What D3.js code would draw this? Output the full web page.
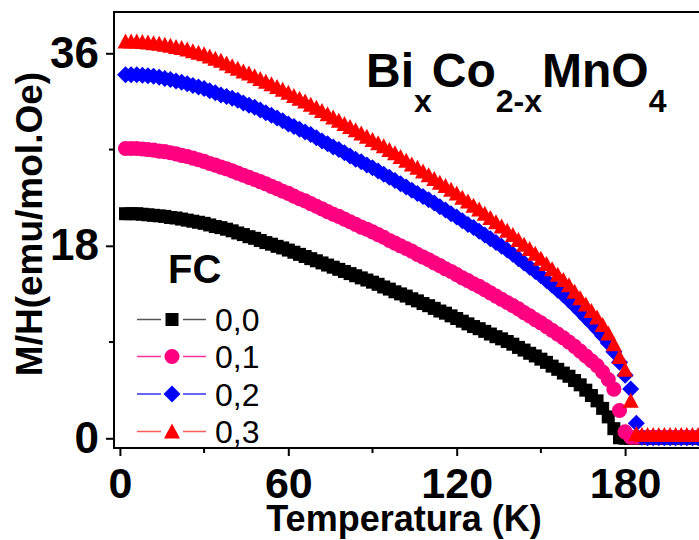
<!DOCTYPE html>
<html><head><meta charset="utf-8">
<script src="https://cdn.jsdelivr.net/npm/d3@7"></script>
<style>
body{margin:0;background:#fff;}
svg{display:block;font-family:"Liberation Sans",Arial,sans-serif;}
</style></head>
<body><svg id="c" width="699" height="540"></svg>
<script>
// ---- data ----
const temperatures = d3.range(2, 209, 2); // K, sampling of the measured points
const seriesNames = ["0,0", "0,1", "0,2", "0,3"];
const fc00 = [21.0,21.0,21.0,20.95,20.9,20.85,20.8,20.75,20.65,20.6,20.5,20.4,20.3,20.2,20.1,19.95,19.8,19.7,19.55,19.4,
 19.2,19.05,18.85,18.7,18.5,18.3,18.15,17.95,17.8,17.6,17.4,17.2,17.0,16.8,16.6,16.4,16.2,16.0,15.8,15.6,
 15.4,15.2,15.0,14.8,14.6,14.4,14.15,13.95,13.7,13.5,13.3,13.05,12.85,12.6,12.4,12.15,11.9,11.7,11.45,11.2,
 10.95,10.7,10.45,10.25,10.0,9.75,9.5,9.3,9.05,8.8,8.5,8.25,7.95,7.7,7.4,7.1,6.75,6.45,6.1,5.8,
 5.4,5.0,4.5,4.0,3.5,2.8,2.0,0.9,0.05,0,0,0,0,0,0,0,0,0,0,0,0,0,0,0];
const fc01 = [27.1,27.1,27.1,27.05,27.0,26.95,26.85,26.8,26.7,26.6,26.45,26.35,26.2,26.05,25.9,25.7,25.55,25.35,25.2,25.0,
 24.8,24.6,24.4,24.2,24.0,23.8,23.55,23.35,23.1,22.9,22.65,22.4,22.2,21.95,21.7,21.45,21.2,20.95,20.75,20.5,
 20.25,20.0,19.75,19.55,19.3,19.05,18.8,18.5,18.25,18.0,17.75,17.5,17.2,16.95,16.7,16.4,16.15,15.85,15.6,15.3,
 15.0,14.75,14.45,14.2,13.9,13.6,13.3,13.0,12.7,12.4,12.1,11.75,11.45,11.1,10.8,10.45,10.1,9.75,9.4,9.0,
 8.6,8.15,7.7,7.25,6.8,6.2,5.5,4.6,2.6,0.6,0.1,0.1,0.1,0.1,0.1,0.1,0.1,0.1,0.1,0.1,0.1,0.1,0.1,0.1];
const fc02 = [34.0,34.0,34.0,33.95,33.9,33.85,33.75,33.65,33.55,33.4,33.3,33.15,33.0,32.85,32.7,32.5,32.3,32.1,31.95,31.8,
 31.6,31.35,31.15,30.95,30.7,30.45,30.2,29.95,29.7,29.4,29.15,28.9,28.65,28.4,28.1,27.8,27.55,27.25,27.0,26.7,
 26.4,26.1,25.85,25.55,25.3,25.0,24.7,24.4,24.1,23.8,23.5,23.2,22.9,22.6,22.3,22.0,21.65,21.35,21.0,20.7,
 20.35,20.0,19.7,19.35,19.0,18.65,18.3,17.95,17.6,17.2,16.8,16.4,16.0,15.6,15.2,14.75,14.3,13.85,13.4,12.9,
 12.4,11.85,11.3,10.75,10.2,9.6,8.9,8.1,7.1,5.9,4.6,1.4,0.1,0.05,0.05,0.05,0.05,0.05,0.05,0.05,0.05,0.05,0.05,0.05];
const fc03 = [37.1,37.1,37.1,37.05,37.0,36.95,36.9,36.8,36.7,36.6,36.5,36.35,36.2,36.05,35.9,35.7,35.5,35.3,35.05,34.8,
 34.55,34.3,34.1,33.85,33.6,33.35,33.1,32.85,32.6,32.3,32.0,31.75,31.5,31.2,30.9,30.6,30.3,30.0,29.7,29.4,
 29.1,28.8,28.5,28.2,27.9,27.6,27.3,26.95,26.65,26.3,25.95,25.6,25.3,24.95,24.6,24.25,23.9,23.6,23.25,22.9,
 22.5,22.15,21.75,21.4,21.0,20.6,20.2,19.8,19.4,19.0,18.55,18.1,17.7,17.25,16.8,16.3,15.8,15.3,14.8,14.3,
 13.7,13.1,12.5,11.9,11.3,10.6,9.8,8.8,7.6,6.4,3.5,0.4,0.3,0.3,0.3,0.3,0.3,0.3,0.3,0.3,0.3,0.3,0.3,0.3];
const xTicks = [0, 60, 120, 180];
const xMinorTicks = [30, 90, 150];
const yTicks = [0, 18, 36];
const yMinorTicks = [9, 27];

// ---- styling ----
const FONT = '"Liberation Sans",Arial,sans-serif';
const series = [
  {name: seriesNames[0], values: fc00, color: "#000000", line: "#555555", shape: "square"},
  {name: seriesNames[1], values: fc01, color: "#ff0080", line: "#ff3399", shape: "circle"},
  {name: seriesNames[2], values: fc02, color: "#0000ff", line: "#3333ff", shape: "diamond"},
  {name: seriesNames[3], values: fc03, color: "#ff0000", line: "#ff5a5a", shape: "triangle"}
];
function shapePath(shape) {
  if (shape === "square") return "M-6.5,-6.5H6.5V6.5H-6.5Z";
  if (shape === "circle") return d3.symbol(d3.symbolCircle, 180)();
  if (shape === "diamond") return "M0,-8.5L8.5,0L0,8.5L-8.5,0Z";
  return "M0,-8L8,7L-8,7Z";
}

const svg = d3.select("#c");
const L = 114, T = 12, B = 448, R = 705;
const x = d3.scaleLinear().domain([0, 180]).range([119.9, 625.1]);
const y = d3.scaleLinear().domain([0, 36]).range([438.3, 53.3]);

// data markers
series.forEach(s => {
  const g = svg.append("g");
  g.selectAll("path").data(temperatures.map((t, i) => [t, s.values[i]]))
    .join("path")
    .attr("d", shapePath(s.shape))
    .attr("transform", d => `translate(${x(d[0])},${y(d[1])})`)
    .attr("fill", s.color);
});

// frame
svg.append("path").attr("d", `M${R},${T}H${L}V${B}H${R}`)
  .attr("fill", "none").attr("stroke", "#000").attr("stroke-width", 2);

// axes
const xAxis = svg.append("g").attr("transform", `translate(0,${B})`)
  .call(d3.axisBottom(x).tickValues(xTicks).tickSize(8).tickPadding(11).tickFormat(d3.format("d")));
xAxis.select(".domain").remove();
xAxis.selectAll("line").attr("stroke-width", 2);
xAxis.selectAll("text").attr("font-family", FONT).attr("font-size", 43).attr("font-weight", "bold").attr("fill", "#000");
svg.append("g").selectAll("line").data(xMinorTicks).join("line")
  .attr("x1", d => x(d)).attr("x2", d => x(d)).attr("y1", B).attr("y2", B + 5)
  .attr("stroke", "#000").attr("stroke-width", 2);

const yAxis = svg.append("g").attr("transform", `translate(${L},0)`)
  .call(d3.axisLeft(y).tickValues(yTicks).tickSize(8).tickPadding(7).tickFormat(d3.format("d")));
yAxis.select(".domain").remove();
yAxis.selectAll("line").attr("stroke-width", 2);
yAxis.selectAll("text").attr("font-family", FONT).attr("font-size", 44).attr("font-weight", "bold").attr("fill", "#000");
svg.append("g").selectAll("line").data(yMinorTicks).join("line")
  .attr("x1", L - 5).attr("x2", L).attr("y1", d => y(d)).attr("y2", d => y(d))
  .attr("stroke", "#000").attr("stroke-width", 2);

// axis titles
svg.append("text").attr("x", 404).attr("y", 531).attr("text-anchor", "middle")
  .attr("font-family", FONT).attr("font-size", 36).attr("font-weight", "bold").text("Temperatura (K)");
svg.append("text").attr("transform", "translate(42,224) rotate(-90)").attr("text-anchor", "middle")
  .attr("font-family", FONT).attr("font-size", 37).attr("font-weight", "bold").text("M/H(emu/mol.Oe)");

// chemical formula
const title = svg.append("text").attr("x", 366).attr("y", 87)
  .attr("font-family", FONT).attr("font-weight", "bold").attr("font-size", 48);
[["Bi", 0, 48], ["x", 25, 32], ["Co", -25, 48], ["2-x", 25, 32], ["MnO", -25, 48], ["4", 25, 32]]
  .forEach(([t, dy, fs]) => title.append("tspan").attr("dy", dy).attr("font-size", fs).text(t));

// legend
svg.append("text").attr("x", 168).attr("y", 283).attr("font-family", FONT)
  .attr("font-size", 40).attr("font-weight", "bold").text("FC");
const rowY = [319.5, 356.5, 394, 431.5];
series.forEach((s, i) => {
  const g = svg.append("g").attr("transform", `translate(0,${rowY[i]})`);
  g.append("line").attr("x1", 137).attr("x2", 161).attr("stroke", s.line).attr("stroke-width", 1.5);
  g.append("line").attr("x1", 183).attr("x2", 206).attr("stroke", s.line).attr("stroke-width", 1.5);
  g.append("path").attr("d", shapePath(s.shape)).attr("transform", "translate(172,0)").attr("fill", s.color);
  g.append("text").attr("x", 215).attr("y", 11.5).attr("font-family", FONT).attr("font-size", 32).text(s.name);
});
</script></body></html>
